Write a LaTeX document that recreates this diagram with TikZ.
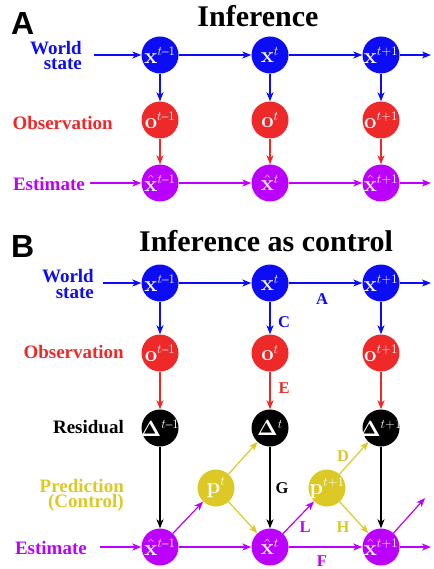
\RequirePackage{fix-cm}
\documentclass[tikz,border=0pt]{standalone}
\usepackage{amsmath}
\usepackage[no-math]{fontspec}
\setmainfont{Liberation Serif}
\newfontfamily\panelsans{Liberation Sans}
\usetikzlibrary{arrows.meta}
\definecolor{cblue}{RGB}{12,12,245}
\definecolor{cred}{RGB}{237,41,41}
\definecolor{cpurp}{RGB}{188,0,255}
\definecolor{cyel}{RGB}{221,201,38}
\DeclareMathSizes{22}{22}{13}{10}
\newcommand\circfnt{\fontsize{22}{22}\selectfont}
\newcommand\lblfnt{\fontsize{19}{19}\selectfont\bfseries}
\newcommand\elfnt{\fontsize{16.5}{16.5}\selectfont\bfseries}
\newcommand\ttlfnt{\fontsize{30}{30}\selectfont\bfseries}
\newcommand\pnlfnt{\fontsize{32}{32}\selectfont\panelsans\bfseries}
\newcommand\mo{\text{--}}
\begin{document}
\begin{tikzpicture}[x=1pt,y=-1pt,
  st/.style={circle,minimum size=37pt,inner sep=0pt},
  ct/.style={text=white,font=\circfnt,inner sep=0pt},
  sb/.style={st,fill=cblue},
  sr/.style={st,fill=cred},
  sk/.style={st,fill=black},
  sp/.style={st,fill=cpurp},
  sy/.style={st,fill=cyel},
  arr/.style={-{Stealth[length=9pt,width=7pt,inset=2.5pt]},line width=1.2pt},
  lbl/.style={font=\lblfnt,anchor=base east,inner sep=0pt},
  elbl/.style={font=\elfnt,anchor=base,inner sep=0pt},
  ttl/.style={font=\ttlfnt,anchor=base,inner sep=0pt},
  pnl/.style={font=\pnlfnt,anchor=base west,inner sep=0pt}]
\path[use as bounding box] (0,0) rectangle (433,569);

% ---------------- Panel A ----------------
\node[pnl] (pA) at (11,35) {A};
\node[ttl] (tA) at (258,27) {Inference};
\node[lbl,text=cblue] (wA1) at (82,55) {World};
\node[lbl,text=cblue] (wA2) at (82,70) {state};
\node[lbl,text=cred] (oA) at (113,130) {Observation};
\node[lbl,text=cpurp] (eA) at (85,190) {Estimate};

\node[sb,label={[ct]center:$\mathbf{x}^{t\mo1}$}] (ax1) at (160,55) {};
\node[sb,label={[ct]center:$\mathbf{x}^{t}$}] (ax2) at (270,55) {};
\node[sb,label={[ct]center:$\mathbf{x}^{t+1}$}] (ax3) at (381,55) {};
\node[sr,label={[ct]center:$\mathbf{o}^{t\mo1}$}] (ao1) at (160,120) {};
\node[sr,label={[ct]center:$\mathbf{o}^{t}$}] (ao2) at (270,120) {};
\node[sr,label={[ct]center:$\mathbf{o}^{t+1}$}] (ao3) at (381,120) {};
\node[sp,label={[ct]center:$\hat{\mathbf{x}}^{t\mo1}$}] (ah1) at (160,183) {};
\node[sp,label={[ct]center:$\hat{\mathbf{x}}^{t}$}] (ah2) at (270,183) {};
\node[sp,label={[ct]center:$\hat{\mathbf{x}}^{t+1}$}] (ah3) at (381,183) {};

\coordinate (aws) at (94,55);
\coordinate (awe) at (431,55);
\coordinate (aes) at (90,183);
\coordinate (aee) at (431,183);

\draw[arr,cblue] (aws) -- (ax1);
\draw[arr,cblue] (ax1) -- (ax2);
\draw[arr,cblue] (ax2) -- (ax3);
\draw[arr,cblue] (ax3) -- (awe);
\draw[arr,cblue] (ax1) -- (ao1);
\draw[arr,cblue] (ax2) -- (ao2);
\draw[arr,cblue] (ax3) -- (ao3);
\draw[arr,cred] (ao1) -- (ah1);
\draw[arr,cred] (ao2) -- (ah2);
\draw[arr,cred] (ao3) -- (ah3);
\draw[arr,cpurp] (aes) -- (ah1);
\draw[arr,cpurp] (ah1) -- (ah2);
\draw[arr,cpurp] (ah2) -- (ah3);
\draw[arr,cpurp] (ah3) -- (aee);

% ---------------- Panel B ----------------
\node[pnl] (pB) at (11,257) {B};
\node[ttl] (tB) at (266,251) {Inference as control};
\node[lbl,text=cblue] (wB1) at (94,282) {World};
\node[lbl,text=cblue] (wB2) at (94,298) {state};
\node[lbl,text=cred] (oB) at (124,358) {Observation};
\node[lbl,text=black] (rB) at (124,433) {Residual};
\node[lbl,text=cyel] (pB1) at (124,492) {Prediction};
\node[lbl,text=cyel] (pB2) at (124,507) {(Control)};
\node[lbl,text=cpurp] (eB) at (87,554) {Estimate};

\node[sb,label={[ct]center:$\mathbf{x}^{t\mo1}$}] (bx1) at (160,283) {};
\node[sb,label={[ct]center:$\mathbf{x}^{t}$}] (bx2) at (270,283) {};
\node[sb,label={[ct]center:$\mathbf{x}^{t+1}$}] (bx3) at (381,283) {};
\node[sr,label={[ct]center:$\mathbf{o}^{t\mo1}$}] (bo1) at (160,353) {};
\node[sr,label={[ct]center:$\mathbf{o}^{t}$}] (bo2) at (270,353) {};
\node[sr,label={[ct]center:$\mathbf{o}^{t+1}$}] (bo3) at (381,353) {};
\node[sk,label={[ct]center:$\mathbf{\Delta}^{t\mo1}$}] (bd1) at (160,428) {};
\node[sk,label={[ct]center:$\mathbf{\Delta}^{t}$}] (bd2) at (270,428) {};
\node[sk,label={[ct]center:$\mathbf{\Delta}^{t+1}$}] (bd3) at (381,428) {};
\node[sy,label={[ct]center:$\mathbf{p}^{t}$}] (bp2) at (216,488) {};
\node[sy,label={[ct]center:$\mathbf{p}^{t+1}$}] (bp3) at (327,488) {};
\node[sp,label={[ct]center:$\hat{\mathbf{x}}^{t\mo1}$}] (bh1) at (160,547) {};
\node[sp,label={[ct]center:$\hat{\mathbf{x}}^{t}$}] (bh2) at (270,547) {};
\node[sp,label={[ct]center:$\hat{\mathbf{x}}^{t+1}$}] (bh3) at (381,547) {};

\coordinate (bws) at (103,283);
\coordinate (bwe) at (431,283);
\coordinate (bes) at (100,547);
\coordinate (bee) at (431,547);
\coordinate (bfe) at (425,498);

\draw[arr,cblue] (bws) -- (bx1);
\draw[arr,cblue] (bx1) -- (bx2);
\draw[arr,cblue] (bx2) -- (bx3);
\draw[arr,cblue] (bx3) -- (bwe);
\draw[arr,cblue] (bx1) -- (bo1);
\draw[arr,cblue] (bx2) -- (bo2);
\draw[arr,cblue] (bx3) -- (bo3);
\draw[arr,cred] (bo1) -- (bd1);
\draw[arr,cred] (bo2) -- (bd2);
\draw[arr,cred] (bo3) -- (bd3);
\draw[arr,black] (bd1) -- (bh1);
\draw[arr,black] (bd2) -- (bh2);
\draw[arr,black] (bd3) -- (bh3);
\draw[arr,cpurp] (bes) -- (bh1);
\draw[arr,cpurp] (bh1) -- (bh2);
\draw[arr,cpurp] (bh2) -- (bh3);
\draw[arr,cpurp] (bh3) -- (bee);
\draw[arr,cpurp] (bh1) -- (bp2);
\draw[arr,cpurp] (bh2) -- (bp3);
\draw[arr,cpurp] (bh3) -- (bfe);
\draw[arr,cyel] (bp2) -- (bd2);
\draw[arr,cyel] (bp2) -- (bh2);
\draw[arr,cyel] (bp3) -- (bd3);
\draw[arr,cyel] (bp3) -- (bh3);

\node[elbl,text=cblue] (lA) at (322,304) {A};
\node[elbl,text=cblue] (lC) at (284,327) {C};
\node[elbl,text=cred] (lE) at (284,393) {E};
\node[elbl,text=cyel] (lD) at (343,461) {D};
\node[elbl,text=black] (lG) at (282,493) {G};
\node[elbl,text=cpurp] (lL) at (305,532) {L};
\node[elbl,text=cyel] (lH) at (343,532) {H};
\node[elbl,text=cpurp] (lF) at (322,566) {F};
\end{tikzpicture}
\end{document}
